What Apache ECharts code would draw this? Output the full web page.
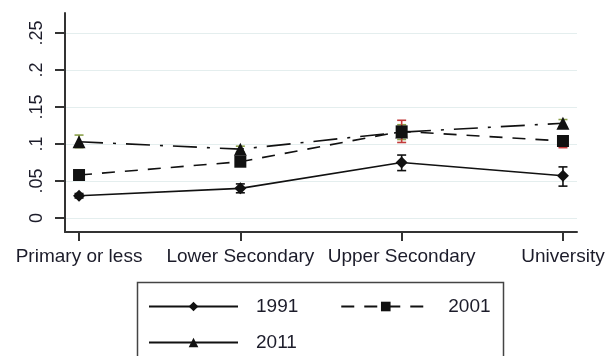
<!DOCTYPE html>
<html>
<head>
<meta charset="utf-8">
<script src="https://cdn.jsdelivr.net/npm/echarts@6/dist/echarts.min.js"></script>
<style>
  html, body { margin: 0; padding: 0; background: #fff; }
  #chart { width: 611px; height: 356px; }
</style>
</head>
<body>
<div id="chart"></div>
<script>
// Education categories along the x axis
const categories = ['Primary or less', 'Lower Secondary', 'Upper Secondary', 'University'];

// Y axis ticks and their labels
const yTickValues = [0, 0.05, 0.1, 0.15, 0.2, 0.25];
const yTickLabels = ['0', '.05', '.1', '.15', '.2', '.25'];

// Point estimates and confidence bounds per census year
const share1991 = [0.030, 0.040, 0.075, 0.057];
const low1991   = [0.027, 0.034, 0.064, 0.043];
const high1991  = [0.033, 0.046, 0.085, 0.069];

const share2001 = [0.058, 0.076, 0.117, 0.104];
const low2001   = [0.054, 0.071, 0.102, 0.095];
const high2001  = [0.062, 0.081, 0.132, 0.110];

const share2011 = [0.103, 0.093, 0.116, 0.128];
const low2011   = [0.095, 0.089, 0.106, 0.123];
const high2011  = [0.112, 0.097, 0.126, 0.133];

const FONT = '"Liberation Sans", Arial, sans-serif';
const INK = '#111111';
const TEXT = '#1c1c2a';

function points(values) {
  return values.map((v, i) => [i, v]);
}

function errorBars(name, low, high, color) {
  return {
    type: 'custom',
    name: name + ' CI',
    z: 3,
    silent: true,
    data: categories.map((c, i) => [i, low[i], high[i]]),
    encode: { x: 0, y: [1, 2] },
    renderItem(params, api) {
      const x = api.value(0);
      const a = api.coord([x, api.value(1)]);
      const b = api.coord([x, api.value(2)]);
      const half = 4.5;
      const style = { stroke: color, lineWidth: 1.6, fill: null };
      return {
        type: 'group',
        children: [
          { type: 'line', shape: { x1: a[0], y1: a[1], x2: b[0], y2: b[1] }, style },
          { type: 'line', shape: { x1: a[0] - half, y1: a[1], x2: a[0] + half, y2: a[1] }, style },
          { type: 'line', shape: { x1: b[0] - half, y1: b[1], x2: b[0] + half, y2: b[1] }, style }
        ]
      };
    }
  };
}

function lineSeries(name, values, symbol, size, dash) {
  return {
    type: 'line',
    name: name,
    z: 4,
    data: points(values),
    symbol: symbol,
    symbolSize: size,
    showAllSymbol: true,
    itemStyle: { color: INK },
    lineStyle: { color: INK, width: 1.6, type: dash },
    emphasis: { disabled: true }
  };
}

const legendText = { fontSize: 19, fontFamily: FONT, color: TEXT, padding: [0, 0, 0, 13] };

const option = {
  animation: false,
  backgroundColor: '#ffffff',
  grid: { left: 65, right: 34, top: 13, bottom: 124, containLabel: false },
  xAxis: {
    type: 'value',
    min: -0.087,
    max: 3.087,
    splitLine: { show: false },
    axisLine: { show: true, onZero: false, lineStyle: { color: '#333', width: 2 } },
    axisTick: { show: true, length: 9, customValues: [0, 1, 2, 3], lineStyle: { color: '#333', width: 2 } },
    axisLabel: {
      customValues: [0, 1, 2, 3],
      formatter: v => categories[Math.round(v)] || '',
      fontSize: 19, fontFamily: FONT, color: TEXT, margin: 15
    }
  },
  yAxis: {
    type: 'value',
    min: -0.019,
    max: 0.277,
    axisLine: { show: true, onZero: false, lineStyle: { color: '#333', width: 2 } },
    axisTick: { show: true, length: 10, customValues: yTickValues, lineStyle: { color: '#333', width: 2 } },
    splitLine: { show: true, lineStyle: { color: '#e4eeee', width: 1 } },
    axisLabel: {
      customValues: yTickValues,
      rotate: 90,
      margin: 19,
      formatter: v => {
        const i = yTickValues.findIndex(t => Math.abs(t - v) < 1e-9);
        return i >= 0 ? yTickLabels[i] : '';
      },
      fontSize: 18, fontFamily: FONT, color: TEXT
    }
  },
  legend: [
    {
      data: [{ name: '1991' }, { name: '2001' }],
      left: 148, top: 297, padding: 0,
      itemWidth: 89, itemHeight: 12, itemGap: 42,
      selectedMode: false,
      textStyle: legendText
    },
    {
      data: [{ name: '2011', lineStyle: { type: 'solid' } }],
      left: 148, top: 333, padding: 0,
      itemWidth: 89, itemHeight: 12,
      selectedMode: false,
      textStyle: legendText
    }
  ],
  graphic: [
    {
      type: 'rect',
      silent: true,
      shape: { x: 137.5, y: 282.5, width: 366, height: 90 },
      style: { fill: null, stroke: '#444', lineWidth: 1.5 }
    }
  ],
  series: [
    errorBars('2011', low2011, high2011, '#8ba04a'),
    lineSeries('2011', share2011, 'triangle', 13, [24, 10, 3, 10]),
    errorBars('2001', low2001, high2001, '#c23b3b'),
    lineSeries('2001', share2001, 'rect', 12, [13, 10]),
    errorBars('1991', low1991, high1991, INK),
    lineSeries('1991', share1991, 'diamond', 12, 'solid')
  ]
};

const chart = echarts.init(document.getElementById('chart'), null, { renderer: 'canvas' });
chart.setOption(option);
</script>
</body>
</html>
